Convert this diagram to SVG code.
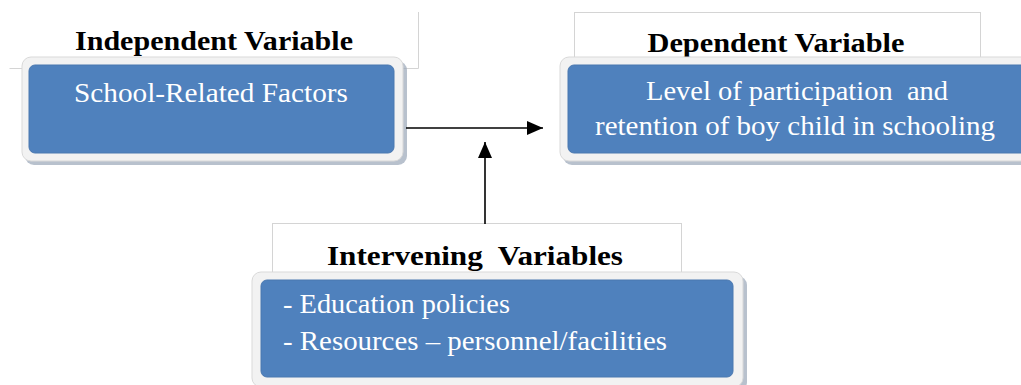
<svg xmlns="http://www.w3.org/2000/svg" width="1021" height="385" viewBox="0 0 1021 385">
<style>
.title{font-family:"Liberation Serif",serif;font-weight:bold;font-size:27px;fill:#000;white-space:pre}
.body{font-family:"Liberation Serif",serif;font-size:27px;fill:#fff;white-space:pre}
.frame{fill:#f2f2f2;stroke:#d9d9d9;stroke-width:1}
.shadow{fill:#9aa7b8;opacity:0.7}
.blue{fill:#4f81bd;stroke:#4a78b0;stroke-width:1}
.tline{stroke:#d4d4d4;stroke-width:1;fill:none}
.conn{stroke:#000;stroke-width:1.6;fill:none}
</style>
<defs>
<marker id="arr2" markerWidth="16" markerHeight="16" refX="16" refY="8" orient="auto" markerUnits="userSpaceOnUse" viewBox="0 0 16 16">
<path d="M0,1 L16,8 L0,15 z" fill="#000"/>
</marker>
</defs>

<g id="independent">
<path class="tline" d="M9.5,68.5 H418.5 V12"/>
<text class="title" x="214" y="50" text-anchor="middle" textLength="278" lengthAdjust="spacingAndGlyphs">Independent Variable</text>
<rect class="shadow" x="25" y="61" width="382" height="104" rx="9"/>
<rect class="frame" x="22" y="57" width="381" height="104" rx="9"/>
<rect class="blue" x="29" y="65" width="365" height="88" rx="6"/>
<text class="body" x="211" y="102" text-anchor="middle" textLength="274" lengthAdjust="spacingAndGlyphs">School-Related Factors</text>
</g>

<g id="dependent">
<rect class="tline" x="574.5" y="12.5" width="406" height="50"/>
<text class="title" x="776" y="52" text-anchor="middle" textLength="257" lengthAdjust="spacingAndGlyphs">Dependent Variable</text>
<rect class="shadow" x="563" y="61" width="470" height="104" rx="9"/>
<rect class="frame" x="560" y="57" width="470" height="104" rx="9"/>
<rect class="blue" x="568" y="65" width="460" height="88" rx="6"/>
<text class="body" x="797" y="100" text-anchor="middle" textLength="302" lengthAdjust="spacingAndGlyphs">Level of participation  and</text>
<text class="body" x="795" y="135" text-anchor="middle" textLength="400" lengthAdjust="spacingAndGlyphs">retention of boy child in schooling</text>
</g>

<g id="intervening">
<rect class="tline" x="272.5" y="223.5" width="409" height="55"/>
<text class="title" x="475" y="265" text-anchor="middle" textLength="296" lengthAdjust="spacingAndGlyphs">Intervening  Variables</text>
<rect class="shadow" x="255" y="276" width="492" height="115" rx="9"/>
<rect class="frame" x="252" y="272" width="491" height="115" rx="9"/>
<rect class="blue" x="261" y="280" width="472" height="97" rx="6"/>
<text class="body" x="283" y="313" textLength="227" lengthAdjust="spacingAndGlyphs">- Education policies</text>
<text class="body" x="283" y="350" textLength="384" lengthAdjust="spacingAndGlyphs">- Resources – personnel/facilities</text>
</g>

<g id="connectors">
<line class="conn" x1="406" y1="128" x2="543" y2="128" marker-end="url(#arr2)"/>
<line class="conn" x1="485" y1="224" x2="485" y2="142" marker-end="url(#arr2)"/>
</g>
</svg>
